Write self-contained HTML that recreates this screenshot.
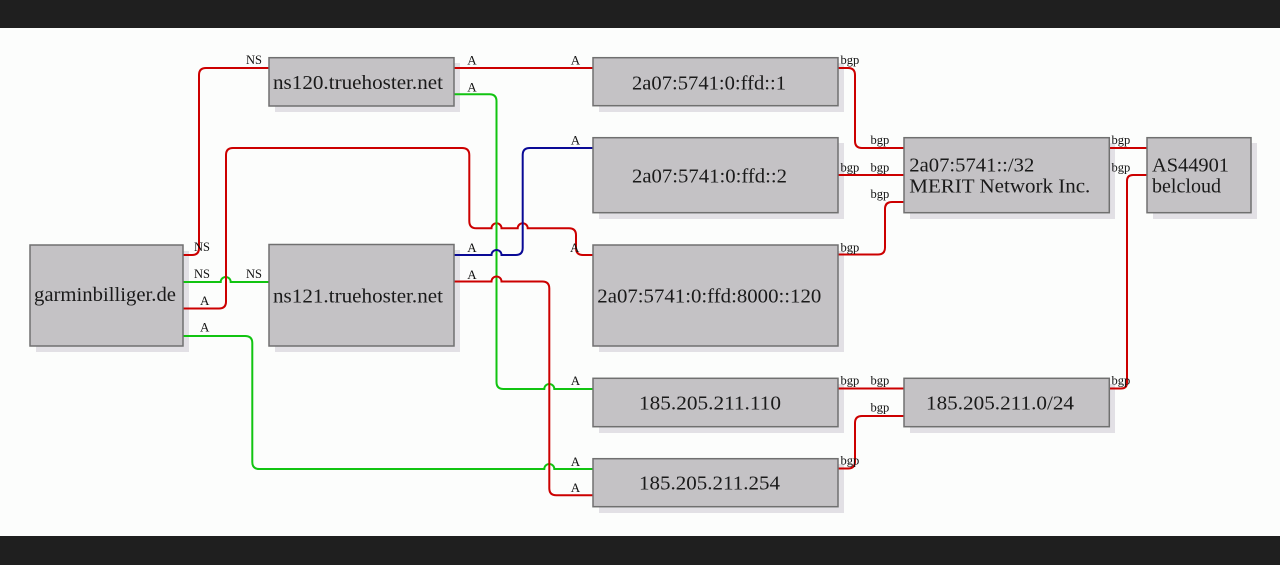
<!DOCTYPE html>
<html><head><meta charset="utf-8">
<style>
html,body{margin:0;padding:0;background:#1f1f1f;}
body{width:1280px;height:565px;overflow:hidden;position:relative;}
svg{position:absolute;left:0;top:0;}
.bt{font-family:"Liberation Serif",serif;font-size:20.5px;fill:#1a1a1a;}
.lb{font-family:"Liberation Serif",serif;font-size:13px;fill:#111;}
.lg{font-family:"Liberation Serif",serif;font-size:12.5px;fill:#111;}
.r{stroke:#cc0000;}
.g{stroke:#11c411;}
.b{stroke:#0a0a96;}
path{fill:none;stroke-width:2;}
.sh{fill:#e2e0e5;}
.bx{fill:#c4c2c5;stroke:#707070;stroke-width:1.5;}
</style></head>
<body>
<svg width="1280" height="565" viewBox="0 0 1280 565" xmlns="http://www.w3.org/2000/svg">
<rect x="0" y="0" width="1280" height="28" fill="#1f1f1f"/>
<rect x="0" y="28" width="1280" height="508" fill="#fcfdfc"/>
<rect x="0" y="536" width="1280" height="29" fill="#1f1f1f"/>

<!-- shadows -->
<rect class="sh" x="36" y="251" width="153" height="101"/>
<rect class="sh" x="275" y="63" width="185" height="49"/>
<rect class="sh" x="275" y="250" width="185" height="102"/>
<rect class="sh" x="599" y="63" width="245" height="49"/>
<rect class="sh" x="599" y="143" width="245" height="76"/>
<rect class="sh" x="599" y="251" width="245" height="101"/>
<rect class="sh" x="599" y="384" width="245" height="49"/>
<rect class="sh" x="599" y="464" width="245" height="49"/>
<rect class="sh" x="910" y="143" width="205" height="76"/>
<rect class="sh" x="1153" y="143" width="104" height="76"/>
<rect class="sh" x="910" y="384" width="205" height="49"/>

<!-- edges -->
<path class="r" d="M183,255 H192 Q199,255 199,248 V75 Q199,68 206,68 H269"/>
<path class="g" d="M183,282 H220.7 A5,5 0 0 1 230.7,282 H269"/>
<path class="r" d="M183,308.5 H219 Q226,308.5 226,301.5 V155 Q226,148 233,148 H462 Q469.3,148 469.3,155 V221 Q469.3,228.3 476.3,228.3 H491.5 A5,5 0 0 1 501.5,228.3 H517.7 A5,5 0 0 1 527.7,228.3 H569 Q576,228.3 576,235.3 V248 Q576,255 583,255 H593"/>
<path class="g" d="M183,336 H245 Q252.3,336 252.3,343 V462 Q252.3,469 259.3,469 H544.3 A5,5 0 0 1 554.3,469 H593"/>
<path class="r" d="M454,68 H593"/>
<path class="g" d="M454,94.3 H489.5 Q496.5,94.3 496.5,101.3 V382 Q496.5,389 503.5,389 H544.3 A5,5 0 0 1 554.3,389 H593"/>
<path class="b" d="M454,255 H491.5 A5,5 0 0 1 501.5,255 H515.7 Q522.7,255 522.7,248 V155 Q522.7,148 529.7,148 H593"/>
<path class="r" d="M454,281.5 H491.5 A5,5 0 0 1 501.5,281.5 H542.3 Q549.3,281.5 549.3,288.5 V488.3 Q549.3,495.3 556.3,495.3 H593"/>
<path class="r" d="M838,68 H848 Q855,68 855,75 V141 Q855,148 862,148 H904"/>
<path class="r" d="M838,175 H904"/>
<path class="r" d="M838,254.5 H878 Q885,254.5 885,247.5 V209 Q885,202 892,202 H904"/>
<path class="r" d="M1110,148 H1147"/>
<path class="r" d="M1110,388.5 H1121 Q1127,388.5 1127,382.5 V181 Q1127,175 1133,175 H1147"/>
<path class="r" d="M838,388.5 H904"/>
<path class="r" d="M838,468.5 H848 Q855,468.5 855,461.5 V423 Q855,416 862,416 H904"/>

<!-- boxes -->
<rect class="bx" x="30" y="245" width="153" height="101"/>
<rect class="bx" x="269" y="57.7" width="185" height="48.3"/>
<rect class="bx" x="269" y="244.5" width="185" height="101.5"/>
<rect class="bx" x="593" y="57.7" width="245" height="48"/>
<rect class="bx" x="593" y="137.7" width="245" height="75"/>
<rect class="bx" x="593" y="245" width="245" height="101"/>
<rect class="bx" x="593" y="378.3" width="245" height="48.4"/>
<rect class="bx" x="593" y="458.7" width="245" height="48"/>
<rect class="bx" x="904" y="137.7" width="205.3" height="75"/>
<rect class="bx" x="1147" y="137.7" width="104" height="75"/>
<rect class="bx" x="904" y="378.3" width="205.3" height="48.4"/>

<!-- box text -->
<text class="bt" x="34" y="301" textLength="142" lengthAdjust="spacingAndGlyphs">garminbilliger.de</text>
<text class="bt" x="273" y="89" textLength="170" lengthAdjust="spacingAndGlyphs">ns120.truehoster.net</text>
<text class="bt" x="273" y="302.3" textLength="170" lengthAdjust="spacingAndGlyphs">ns121.truehoster.net</text>
<text class="bt" x="632" y="89.3" textLength="154" lengthAdjust="spacingAndGlyphs">2a07:5741:0:ffd::1</text>
<text class="bt" x="632" y="182.7" textLength="155" lengthAdjust="spacingAndGlyphs">2a07:5741:0:ffd::2</text>
<text class="bt" x="597.3" y="302.3" textLength="224" lengthAdjust="spacingAndGlyphs">2a07:5741:0:ffd:8000::120</text>
<text class="bt" x="639" y="409.3" textLength="142" lengthAdjust="spacingAndGlyphs">185.205.211.110</text>
<text class="bt" x="639" y="489.3" textLength="141" lengthAdjust="spacingAndGlyphs">185.205.211.254</text>
<text class="bt" x="909.3" y="171.3" textLength="125" lengthAdjust="spacingAndGlyphs">2a07:5741::/32</text>
<text class="bt" x="909.3" y="192.7" textLength="181" lengthAdjust="spacingAndGlyphs">MERIT Network Inc.</text>
<text class="bt" x="1152" y="171.3" textLength="77" lengthAdjust="spacingAndGlyphs">AS44901</text>
<text class="bt" x="1152" y="192.7" textLength="69" lengthAdjust="spacingAndGlyphs">belcloud</text>
<text class="bt" x="926" y="409.5" textLength="148" lengthAdjust="spacingAndGlyphs">185.205.211.0/24</text>

<!-- edge labels -->
<text class="lb" x="246" y="64" textLength="16" lengthAdjust="spacingAndGlyphs">NS</text>
<text class="lb" x="194" y="251" textLength="16" lengthAdjust="spacingAndGlyphs">NS</text>
<text class="lb" x="194" y="278" textLength="16" lengthAdjust="spacingAndGlyphs">NS</text>
<text class="lb" x="246" y="278" textLength="16" lengthAdjust="spacingAndGlyphs">NS</text>
<text class="lb" x="200" y="305">A</text>
<text class="lb" x="200" y="331.7">A</text>
<text class="lb" x="467.3" y="64.3">A</text>
<text class="lb" x="570.7" y="64.3">A</text>
<text class="lb" x="467.3" y="91.5">A</text>
<text class="lb" x="570.7" y="144.5">A</text>
<text class="lb" x="467.3" y="252">A</text>
<text class="lb" x="467.3" y="279">A</text>
<text class="lb" x="570" y="252">A</text>
<text class="lb" x="570.7" y="385">A</text>
<text class="lb" x="570.7" y="466">A</text>
<text class="lb" x="570.7" y="492">A</text>

<text class="lg" x="840.5" y="64">bgp</text>
<text class="lg" x="870.5" y="144">bgp</text>
<text class="lg" x="840.5" y="171.5">bgp</text>
<text class="lg" x="870.5" y="171.5">bgp</text>
<text class="lg" x="870.5" y="198">bgp</text>
<text class="lg" x="840.5" y="251.5">bgp</text>
<text class="lg" x="1111.5" y="144">bgp</text>
<text class="lg" x="1111.5" y="171.5">bgp</text>
<text class="lg" x="1111.5" y="384.7">bgp</text>
<text class="lg" x="840.5" y="384.7">bgp</text>
<text class="lg" x="870.5" y="384.7">bgp</text>
<text class="lg" x="870.5" y="411.3">bgp</text>
<text class="lg" x="840.5" y="464.7">bgp</text>
</svg>
</body></html>
